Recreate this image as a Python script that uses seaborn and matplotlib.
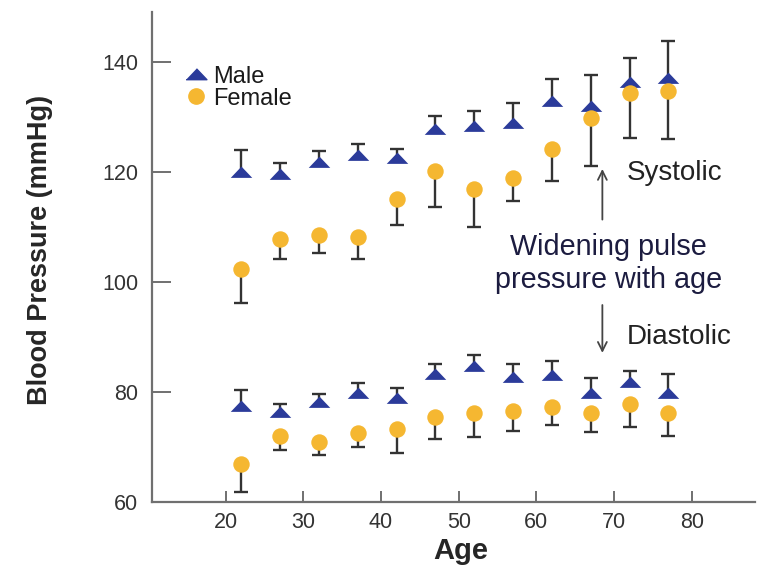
import numpy as np
import pandas as pd
import matplotlib.pyplot as plt
import seaborn as sns

# ---------- data ----------
ages = [22, 27, 32, 37, 42, 47, 52, 57, 62, 67, 72, 77]

male_sys = [120.0, 119.6, 121.8, 123.0, 122.4, 127.8, 128.3, 128.8, 132.8, 132.0, 136.2, 137.1]
male_sys_up = [124.0, 121.5, 123.8, 125.0, 124.2, 130.2, 131.1, 132.4, 136.9, 137.5, 140.7, 143.8]
female_sys = [102.4, 107.7, 108.5, 108.2, 115.1, 120.2, 116.8, 118.8, 124.2, 129.8, 134.2, 134.6]
female_sys_low = [96.1, 104.2, 105.2, 104.2, 110.4, 113.5, 109.9, 114.6, 118.4, 121.1, 126.2, 126.0]

male_dia = [77.4, 76.3, 78.1, 79.9, 78.9, 83.2, 84.8, 82.7, 83.0, 79.9, 81.8, 79.9]
male_dia_up = [80.3, 77.9, 79.7, 81.7, 80.7, 85.0, 86.8, 85.0, 85.7, 82.6, 83.9, 83.2]
female_dia = [66.9, 72.1, 71.0, 72.6, 73.3, 75.5, 76.1, 76.5, 77.2, 76.2, 77.9, 76.2]
female_dia_low = [61.8, 69.4, 68.5, 70.0, 69.0, 71.4, 71.9, 73.0, 74.1, 72.7, 73.6, 72.1]

blue = "#2b3b9a"
gold = "#f5b731"
bar_col = "#333333"

male = pd.DataFrame({"age": ages * 2, "bp": male_sys + male_dia})
female = pd.DataFrame({"age": ages * 2, "bp": female_sys + female_dia})

sns.set_style("white")
plt.rcParams["font.family"] = ["Liberation Sans", "DejaVu Sans"]

fig = plt.figure(figsize=(7.58, 5.70), dpi=100)
ax = fig.add_axes([0.2005, 0.119, 0.796, 0.860])

# one-sided error bars: a stem plus a single cap at the far end
for mid, ext in [(male_sys, male_sys_up), (male_dia, male_dia_up),
                 (female_sys, female_sys_low), (female_dia, female_dia_low)]:
    ax.vlines(ages, mid, ext, color=bar_col, lw=1.7, zorder=1)
    ax.plot(ages, ext, linestyle="none", marker="_", markersize=10,
            mew=1.7, color=bar_col, zorder=1)

# flattened triangle like the original
tri = [(-1, -0.5), (1, -0.5), (0, 0.55)]
sns.scatterplot(data=male, x="age", y="bp", marker=tri, color=blue,
                s=240, linewidth=0, ax=ax, zorder=3)
sns.scatterplot(data=female, x="age", y="bp", marker="o", color=gold,
                s=140, linewidth=0, ax=ax, zorder=3)

# legend
h_m = plt.Line2D([], [], marker=tri, color=blue, linestyle="none", markersize=15)
h_f = plt.Line2D([], [], marker="o", color=gold, linestyle="none", markersize=11)
ax.legend([h_m, h_f], ["Male", "Female"], loc="upper left",
          bbox_to_anchor=(0.035, 0.91), frameon=False, fontsize=17,
          handletextpad=0.2, labelspacing=0.0, borderaxespad=0,
          handlelength=1.1, labelcolor="#1a1a1a")

# annotations
arrow = dict(arrowstyle="->", color="#444444", lw=1.3, mutation_scale=16)
ax.annotate("", xy=(68.5, 121.0), xytext=(68.5, 110.8), arrowprops=arrow)
ax.annotate("", xy=(68.5, 86.6), xytext=(68.5, 96.3), arrowprops=arrow)
ax.text(71.6, 119.8, "Systolic", fontsize=20, color="#222222", va="center")
ax.text(71.6, 89.9, "Diastolic", fontsize=20, color="#222222", va="center")
ax.text(69.3, 103.4, "Widening pulse\npressure with age", fontsize=20.7,
        color="#1c1c40", ha="center", va="center", linespacing=1.22)

ax.set_xlim(10.5, 88.2)
ax.set_ylim(60, 149)
ax.set_xticks([20, 30, 40, 50, 60, 70, 80])
ax.set_yticks([60, 80, 100, 120, 140])

ax.set_xlabel("Age", fontsize=21, fontweight="bold")
ax.set_ylabel("Blood Pressure (mmHg)", fontsize=19.5, fontweight="bold")
ax.xaxis.set_label_coords(0.512, -0.072)
ax.yaxis.set_label_coords(-0.164, 0.515)

for side in ["top", "right"]:
    ax.spines[side].set_visible(False)
for side in ["left", "bottom"]:
    ax.spines[side].set_color("#707070")
    ax.spines[side].set_linewidth(1.6)

ax.tick_params(axis="y", direction="in", length=14, width=1.4, color="#707070",
               labelsize=15.5, labelcolor="#333333", pad=10, left=True)
ax.tick_params(axis="x", direction="in", length=8, width=1.4, color="#707070",
               labelsize=15.5, labelcolor="#333333", pad=7, bottom=True)

fig.savefig("out.png", dpi=100)
